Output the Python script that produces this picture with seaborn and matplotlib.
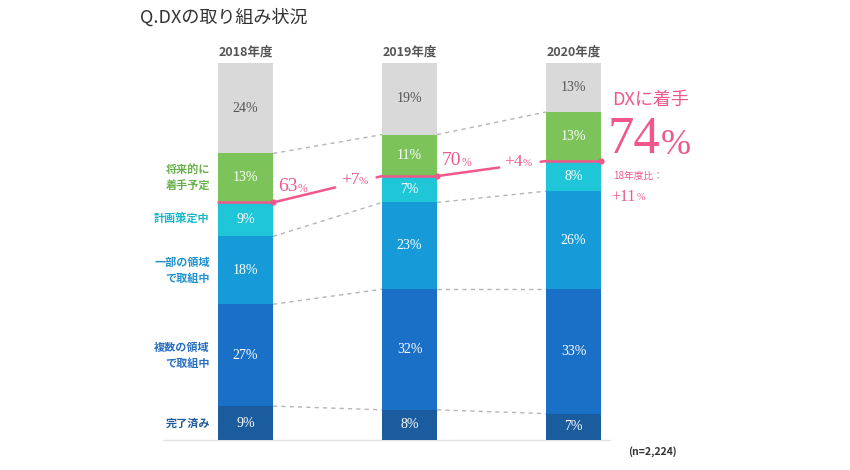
import numpy as np
import pandas as pd
import seaborn as sns
import matplotlib.pyplot as plt

# data (bottom to top)
years = ["2018年度", "2019年度", "2020年度"]
categories = ["完了済み", "複数の領域\nで取組中", "一部の領域\nで取組中", "計画策定中", "将来的に\n着手予定", "未着手"]
done = [9, 8, 7]
multi = [27, 32, 33]
partial = [18, 23, 26]
planning = [9, 7, 8]
future = [13, 11, 13]
not_started = [24, 19, 13]
n_label = "(n=2,224)"

colors = ["#1b5c9f", "#1a6fc7", "#179bd8", "#1fc6d8", "#7cc35a", "#d9d9d9"]
label_colors = ["#1d5a9c", "#2a6fc0", "#1f92cf", "#18b8cc", "#68b04a", "#999999"]
pink = "#f0578a"

sns.set_theme(style="white")
plt.rcParams["font.family"] = ["Noto Sans CJK JP", "DejaVu Sans"]
serif = ["Liberation Serif", "DejaVu Serif"]

series = [done, multi, partial, planning, future, not_started]
vals = np.array(series, dtype=float)          # shape (6, 3)
cum = np.cumsum(vals, axis=0)                  # top of each segment
started = cum[3]                               # 着手 total (done..planning)

fig = plt.figure(figsize=(8.5, 4.7), dpi=100)
ax = fig.add_axes([0, 0, 1, 1])

# stacked bars: draw cumulative totals from the top down so each overlays the previous
hw = 0.1677
for k in range(len(series) - 1, -1, -1):
    df = pd.DataFrame({"year": years, "value": cum[k]})
    sns.barplot(data=df, x="year", y="value", color=colors[k], saturation=1,
                width=2 * hw, linewidth=0, ax=ax, zorder=2)

ax.set_xlim(-1.497, 3.686)
ax.set_ylim(-7.96, 116.71)
ax.axis("off")

# baseline
ax.plot([-0.503, 2.22], [0, 0], color="#e3e3e3", lw=1, zorder=1)

# segment labels
for k in range(len(series)):
    for i in range(3):
        mid = cum[k][i] - vals[k][i] / 2
        c = "#555555" if k == len(series) - 1 else "white"
        ax.text(i, mid, f"{int(vals[k][i])}%", ha="center", va="center",
                color=c, fontsize=10, family=serif, zorder=3)

# left category labels
for k in range(len(series) - 1):
    mid = cum[k][0] - vals[k][0] / 2
    ax.text(-hw - 0.05, mid, categories[k], ha="right", va="center",
            color=label_colors[k], fontsize=8, fontweight="bold",
            linespacing=1.3, zorder=3)

# year labels
for i, y in enumerate(years):
    ax.text(i, 102.9, y, ha="center", va="center", color="#555555",
            fontsize=9, fontweight="bold")

# dashed connectors between boundaries (except the pink one)
for k in [0, 1, 2, 4]:
    for i in range(2):
        ax.plot([i + hw, i + 1 - hw], [cum[k][i], cum[k][i + 1]],
                color="#b5b5b5", lw=1, ls=(0, (3, 3)), zorder=1)

# pink "started" line
for i in range(3):
    ax.plot([i - hw, i + hw], [started[i]] * 2, color=pink, lw=1.8, zorder=4)
    ax.scatter([i + hw], [started[i]], s=20, color=pink, zorder=5, linewidths=0)
for i in range(2):
    x0, x1 = i + hw, i + 1 - hw
    y0, y1 = started[i], started[i + 1]
    for f0, f1 in [(0, 0.57), (0.95, 1)]:
        ax.plot([x0 + f0 * (x1 - x0), x0 + f1 * (x1 - x0)],
                [y0 + f0 * (y1 - y0), y0 + f1 * (y1 - y0)], color=pink, lw=1.8, zorder=4)
    fm = 0.76
    xm, ym = x0 + fm * (x1 - x0), y0 + fm * (y1 - y0)
    diff = int(started[i + 1] - started[i])
    ax.text(xm + 0.02, ym + 0.6, f"+{diff}", ha="right", va="center",
            color=pink, fontsize=12.5, family=serif)
    ax.text(xm + 0.02, ym + 0.2, "%", ha="left", va="center",
            color=pink, fontsize=8, family=serif)

# 63% / 70% labels above the line
for i in range(2):
    xl = i + hw + 0.15
    ax.text(xl, started[i] + 4.2, f"{int(started[i])}", ha="right", va="center",
            color=pink, fontsize=14, family=serif)
    ax.text(xl, started[i] + 3.5, "%", ha="left", va="center",
            color=pink, fontsize=8.5, family=serif)

# right-side callout
ax.text(612 / 850, 1 - 100 / 470, "DXに着手", transform=fig.transFigure,
        ha="left", va="center", color=pink, fontsize=13)
ax.text(660 / 850, 1 - 140 / 470, f"{int(started[2])}", transform=fig.transFigure,
        ha="right", va="center", color=pink, fontsize=38, family=serif)
ax.text(661 / 850, 1 - 145 / 470, "%", transform=fig.transFigure,
        ha="left", va="center", color=pink, fontsize=26, family=serif)
ax.text(613 / 850, 1 - 176 / 470, "18年度比：", transform=fig.transFigure,
        ha="left", va="center", color=pink, fontsize=7)
ax.text(636 / 850, 1 - 197 / 470, f"+{int(started[2] - started[0])}", transform=fig.transFigure,
        ha="right", va="center", color=pink, fontsize=11.5, family=serif)
ax.text(637 / 850, 1 - 198 / 470, "%", transform=fig.transFigure,
        ha="left", va="center", color=pink, fontsize=7.5, family=serif)

# title and sample size
fig.text(140 / 850, 1 - 18 / 470, "Q.DXの取り組み状況", ha="left", va="center",
         color="#333333", fontsize=13)
fig.text(628 / 850, 1 - 452 / 470, n_label, ha="left", va="center",
         color="#333333", fontsize=7.5, fontweight="bold")

fig.savefig("out.png", dpi=100, facecolor="white")
